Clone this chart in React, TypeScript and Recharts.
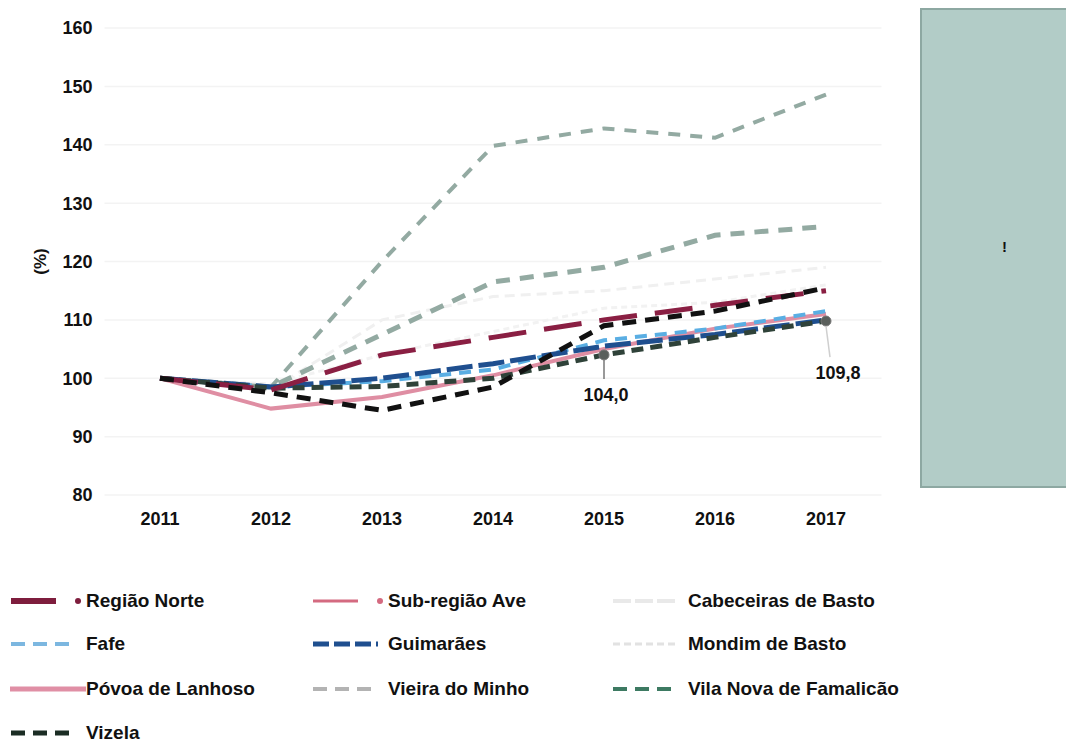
import React from 'react';
import { LineChart, Line, XAxis, YAxis, CartesianGrid } from 'recharts';

const years = ['2011', '2012', '2013', '2014', '2015', '2016', '2017'];
const regiaoNorte = [100, 98, 104, 107, 110, 112.5, 115];
const subRegiaoAve = [100, 98.3, 98.6, 100, 104.0, 107, 109.8];
const cabeceirasDeBasto = [100, 98, 110, 114, 115, 117, 119];
const fafe = [100, 98.5, 99.5, 101.5, 106.5, 108.5, 111.5];
const guimaraes = [100, 98.5, 100, 102.5, 105.5, 107.5, 110];
const mondimDeBasto = [100, 99, 104, 108, 112, 113, 116];
const povoaDeLanhoso = [100, 94.8, 96.8, 100.5, 105, 108.5, 111];
const vieiraDoMinho = [100, 98.5, 120, 139.8, 142.8, 141.2, 148.6];
const vilaNovaDeFamalicao = [100, 98.5, 107.5, 116.5, 119, 124.5, 126];
const vizela = [100, 97.5, 94.5, 98.5, 109, 111.5, 115.5];
const yTicks = [80, 90, 100, 110, 120, 130, 140, 150, 160];
const labelledIndexes = [4, 6];

type Def = {
  key: string; name: string; values: number[];
  stroke: string; width: number; dash?: string;
  lg: { stroke: string; width: number; dash?: string; dot?: boolean; full?: boolean };
};

const defs: Def[] = [
  { key: 'rn', name: 'Região Norte', values: regiaoNorte, stroke: '#8a1f43', width: 5, dash: '38 18',
    lg: { stroke: '#7e1d3d', width: 6, dot: true } },
  { key: 'ave', name: 'Sub-região Ave', values: subRegiaoAve, stroke: '#2f4239', width: 5, dash: '12 7',
    lg: { stroke: '#d46a80', width: 3, dot: true } },
  { key: 'cab', name: 'Cabeceiras de Basto', values: cabeceirasDeBasto, stroke: '#f0f0f0', width: 3, dash: '10 6',
    lg: { stroke: '#e9e9e9', width: 4, dash: '18 4' } },
  { key: 'fafe', name: 'Fafe', values: fafe, stroke: '#5aaee3', width: 4, dash: '12 8',
    lg: { stroke: '#7cb7e0', width: 4, dash: '14 8' } },
  { key: 'gui', name: 'Guimarães', values: guimaraes, stroke: '#1f4f8f', width: 5, dash: '26 6',
    lg: { stroke: '#1f4f8f', width: 5, dash: '16 5' } },
  { key: 'mon', name: 'Mondim de Basto', values: mondimDeBasto, stroke: '#f2f2f2', width: 3, dash: '6 4',
    lg: { stroke: '#e2e2e2', width: 3, dash: '7 4' } },
  { key: 'pov', name: 'Póvoa de Lanhoso', values: povoaDeLanhoso, stroke: '#df8ea3', width: 4,
    lg: { stroke: '#e08fa5', width: 5, full: true } },
  { key: 'vie', name: 'Vieira do Minho', values: vieiraDoMinho, stroke: '#93aaa2', width: 4, dash: '12 10',
    lg: { stroke: '#b3b3b3', width: 4, dash: '14 8' } },
  { key: 'vnf', name: 'Vila Nova de Famalicão', values: vilaNovaDeFamalicao, stroke: '#93aaa2', width: 5, dash: '14 10',
    lg: { stroke: '#3d7a62', width: 4, dash: '14 8' } },
  { key: 'viz', name: 'Vizela', values: vizela, stroke: '#111111', width: 5, dash: '14 9',
    lg: { stroke: '#1b2d24', width: 5, dash: '14 8' } },
];

const drawOrder = ['cab', 'mon', 'vie', 'vnf', 'pov', 'fafe', 'gui', 'ave', 'rn', 'viz'];

const data = years.map((y, i) => {
  const row: Record<string, any> = { year: y };
  defs.forEach((d) => { row[d.key] = d.values[i]; });
  return row;
});

const FONT = '"Liberation Sans", Arial, sans-serif';

const AveDot = (props: any) => {
  const { cx, cy, index } = props;
  if (!labelledIndexes.includes(index)) return <g key={`d${index}`} />;
  return <circle key={`d${index}`} cx={cx} cy={cy} r={5} fill="#5a5f5c" stroke="#777" strokeWidth={1} />;
};

const AveLabel = (props: any) => {
  const { x, y, index, value } = props;
  if (!labelledIndexes.includes(index)) return null;
  const last = index === years.length - 1;
  const dx = last ? 12 : 2;
  const dy = last ? 52 : 40;
  return (
    <g>
      <line x1={x} y1={y + 5} x2={x + (last ? 4 : 0)} y2={y + dy - 16} stroke={last ? '#cfcfcf' : '#777'} strokeWidth={1.5} />
      <text x={x + dx} y={y + dy} textAnchor="middle" dominantBaseline="central" fontSize={18} fontWeight="bold" fill="#111" fontFamily={FONT}>
        {Number(value).toFixed(1).replace('.', ',')}
      </text>
    </g>
  );
};

const YLabel = (props: any) => {
  const vb = props.viewBox || { x: 0, y: 0, width: 0, height: 0 };
  const cx = vb.x + 16;
  const cy = vb.y + vb.height / 2;
  return (
    <text x={cx} y={cy} transform={`rotate(-90 ${cx} ${cy})`} textAnchor="middle" dominantBaseline="central" fontSize={17} fontWeight="bold" fill="#111" fontFamily={FONT}>
      (%)
    </text>
  );
};

const Swatch = ({ d }: { d: Def }) => {
  const lg = d.lg;
  return (
    <svg width={76} height={14} style={{ display: 'block', flex: 'none' }}>
      {lg.full ? (
        <line x1={0} y1={7} x2={76} y2={7} stroke={lg.stroke} strokeWidth={lg.width} />
      ) : (
        <line x1={1} y1={7} x2={lg.dot ? 46 : 66} y2={7} stroke={lg.stroke} strokeWidth={lg.width} strokeDasharray={lg.dash} />
      )}
      {lg.dot && <circle cx={68} cy={7} r={3} fill={lg.stroke} />}
    </svg>
  );
};

const colLeft = [2, 304, 604];
const rowTop = [583, 626, 671, 715];

export default function App() {
  const ordered = drawOrder.map((k) => defs.find((d) => d.key === k)!);
  return (
    <div style={{ position: 'relative', width: 1066, height: 735, fontFamily: FONT }}>
      <div style={{ position: 'absolute', left: 0, top: 0 }}>
        <LineChart width={900} height={530} data={data} margin={{ top: 20, right: 26.5, bottom: 13, left: 16.5 }} style={{ fontFamily: FONT }}>
          <CartesianGrid vertical={false} stroke="#f3f3f3" strokeWidth={1.5} />
          <XAxis dataKey="year" axisLine={false} tickLine={false} tickSize={0} tickMargin={17} height={30}
            padding={{ left: 55.5, right: 55.5 }}
            tick={{ fontSize: 18, fontWeight: 'bold', fill: '#111', fontFamily: FONT }} interval={0} />
          <YAxis domain={[80, 160]} ticks={yTicks} axisLine={false} tickLine={false} tickSize={0} tickMargin={12} width={80}
            tick={{ fontSize: 18, fontWeight: 'bold', fill: '#111', fontFamily: FONT }} label={<YLabel />} />
          {ordered.map((d) => (
            <Line key={d.key} type="linear" dataKey={d.key} name={d.name} stroke={d.stroke} strokeWidth={d.width}
              strokeDasharray={d.dash} dot={d.key === 'ave' ? <AveDot /> : false} activeDot={false}
              isAnimationActive={false} strokeLinecap="butt"
              label={d.key === 'ave' ? <AveLabel /> : undefined} />
          ))}
        </LineChart>
      </div>
      <div style={{ position: 'absolute', left: 912, top: 0, width: 150, height: 476, background: '#b2ccc7', border: '2px solid #8da8a2' }}>
        <div style={{ position: 'absolute', left: 80, top: 228, fontSize: 15, fontWeight: 'bold', color: '#111' }}>!</div>
      </div>
      {defs.map((d, i) => (
        <div key={d.key} style={{ position: 'absolute', left: colLeft[i % 3], top: rowTop[Math.floor(i / 3)], display: 'flex', alignItems: 'center', height: 20 }}>
          <Swatch d={d} />
          <span style={{ fontSize: 19, fontWeight: 'bold', color: '#111', whiteSpace: 'nowrap', lineHeight: '20px' }}>{d.name}</span>
        </div>
      ))}
    </div>
  );
}
